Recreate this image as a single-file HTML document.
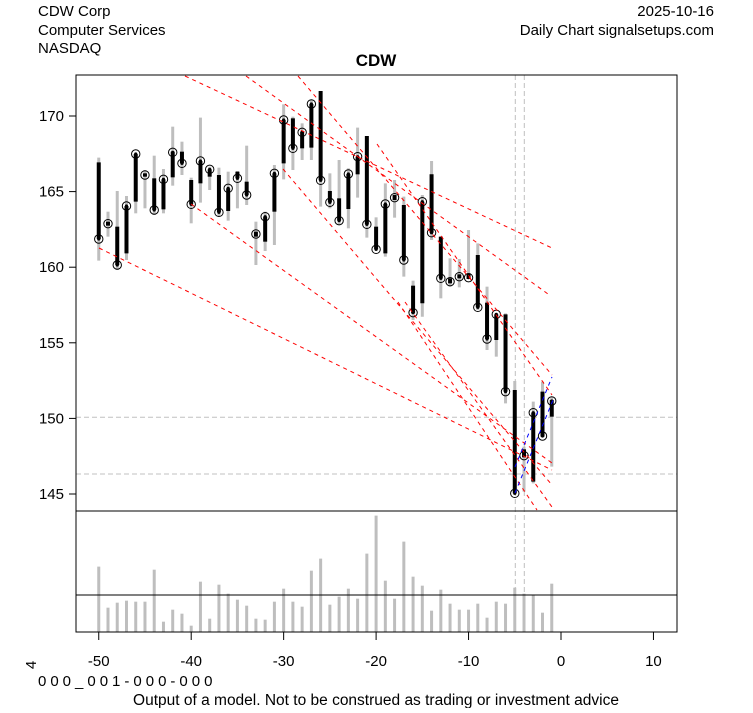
<!DOCTYPE html>
<html><head><meta charset="utf-8"><style>
body{margin:0;background:#fff}
svg text{font-family:"Liberation Sans",Arial,sans-serif;}
</style></head><body>
<svg id="s" width="753" height="708" xmlns="http://www.w3.org/2000/svg">
<rect width="753" height="708" fill="#fff"/>
<text x="38" y="16" font-size="15">CDW Corp</text>
<text x="38" y="35" font-size="15">Computer Services</text>
<text x="38" y="53" font-size="15">NASDAQ</text>
<text x="714" y="16" font-size="15" text-anchor="end">2025-10-16</text>
<text x="714" y="35" font-size="15" text-anchor="end">Daily Chart signalsetups.com</text>
<text x="376" y="66" font-size="17" font-weight="bold" text-anchor="middle">CDW</text>
<g id="g"></g>
<rect x="76" y="75" width="601" height="557" fill="none" stroke="#000" stroke-width="1"/>
<line x1="76" y1="511" x2="677" y2="511" stroke="#000"/>
<line x1="76" y1="595" x2="677" y2="595" stroke="#000"/>
<g font-size="15" text-anchor="end" id="yl"></g>
<g font-size="15" text-anchor="middle" id="xl"></g>
<text transform="translate(36,665) rotate(-90)" font-size="15" text-anchor="middle">4</text>
<text x="38" y="686" font-size="15" letter-spacing="4">000_001-000-000</text>
<text x="376" y="705" font-size="15.5" text-anchor="middle">Output of a model. Not to be construed as trading or investment advice</text>
</svg>
<script>
var NS="http://www.w3.org/2000/svg",g=document.getElementById('g');
function el(t,a,p){var e=document.createElementNS(NS,t);for(var k in a)e.setAttribute(k,a[k]);(p||g).appendChild(e);return e;}
function X(d){return 561+d*9.245;}
function Y(p){return 116+(170-p)*15.12;}
var yl=document.getElementById('yl');
[145,150,155,160,165,170].forEach(function(v){var y=Y(v);el('line',{x1:69,y1:y,x2:76,y2:y,stroke:'#000'});var t=el('text',{x:64,y:y+5},yl);t.textContent=v;});
var xl=document.getElementById('xl');
[-50,-40,-30,-20,-10,0,10].forEach(function(v){var x=X(v);el('line',{x1:x,y1:632,x2:x,y2:640,stroke:'#000'});var t=el('text',{x:x,y:666},xl);t.textContent=v;});
var gd={stroke:'#c0c0c0','stroke-dasharray':'5,3','stroke-width':1};
function L(x1,y1,x2,y2,a){var o={x1:x1,y1:y1,x2:x2,y2:y2};for(var k in a)o[k]=a[k];el('line',o);}
L(76,417.3,677,417.3,gd);L(76,474,677,474,gd);
L(515.3,75,515.3,632,gd);L(524.3,75,524.3,632,gd);
var vt=[185,308,293,287,290,290,194,350,314,326,362,230,341,239,266,284,302,341,344,290,251,290,305,197,161,299,275,251,281,146,32,227,281,110,215,242,317,254,296,314,314,296,338,290,296,248,266,269,323,236];
vt.forEach(function(t,i){var x=X(-50+i);L(x,505+t/3,x,632,{stroke:'#bebebe','stroke-width':3});});
var raw=[];
function z(off,arr){return arr.map(function(v){return off+v/3;});}
var z1=[[248,557,262,492,492],[410,485,440,452,446],[348,585,455,570,570],[363,555,393,535,393],[237,415,237,380,237],[285,400,295,305,300],[242,420,310,405,405],[282,415,313,403,313],[155,332,230,307,232],[200,300,230,265,265],[308,445,315,388,388],[128,383,258,325,258],[275,345,283,305,283],[278,425,300,412,412],[290,437,340,408,340],[288,400,290,310,310],[212,390,320,360,360],[440,570,470,485,477],[410,528,425,500,425],[270,510,295,410,295],[88,313,135,265,135],[125,285,130,220,220],[145,255,170,220,172],[75,255,87,218,87],[50,395,48,316,316]];
z1.forEach(function(a){raw.push(z(75,a));});
var z2=[[295,400,348,382,382],[255,450,370,437,437],[280,460,297,402,297],[158,368,245,298,245],[183,488,183,448,448],[427,525,455,523,523],[325,545,387,535,387],[315,428,360,375,368],[365,605,390,555,555],[617,735,632,715,713]];
z2.forEach(function(a){raw.push(z(75,a));});
raw.push([195,316.7,201.7,303.3,201.7]);
raw.push([161,240,174.3,232.7,232.7]);
raw.push(z(75,[485,670,485,610,610]));
raw.push(z(75,[550,635,610,625,620]));
raw.push(z(75,[552,637,598,610,605]));
raw.push(z(75,[465,610,595,612,608]));
var z3=[[70,270,105,262,262],[200,390,248,357,357],[280,410,283,360,283],[280,550,283,515,515],[483,820,510,820,820],[680,815,688,712,707],[545,790,578,785,578],[485,650,515,650,648],[530,740,540,590,543]];
z3.forEach(function(a){raw.push(z(220,a));});
raw.forEach(function(b,i){var x=X(-50+i);
 L(x,b[0],x,b[1],{stroke:'#bebebe','stroke-width':3});
 L(x,b[2],x,b[3],{stroke:'#000','stroke-width':4});
 el('circle',{cx:x,cy:b[4],r:4.2,fill:'none',stroke:'#000','stroke-width':1});
 el('circle',{cx:x,cy:b[4],r:1.6,fill:'#000'});
});
var rd={stroke:'#ff0000','stroke-dasharray':'4,4','stroke-width':1};
[[185,76,552,248],[246,76,548,294],[298,76,552,375],[377,144,552,395],[191,204,552,463],[283,169,552,485],[99,248,552,470],[398,302,537,510],[405,302,552,507]].forEach(function(l){L(l[0],l[1],l[2],l[3],rd);});
var bd={stroke:'#0000ff','stroke-dasharray':'4,4','stroke-width':1};
L(515,467,552,377,bd);L(515,493,553,400,bd);
</script>
</body></html>
